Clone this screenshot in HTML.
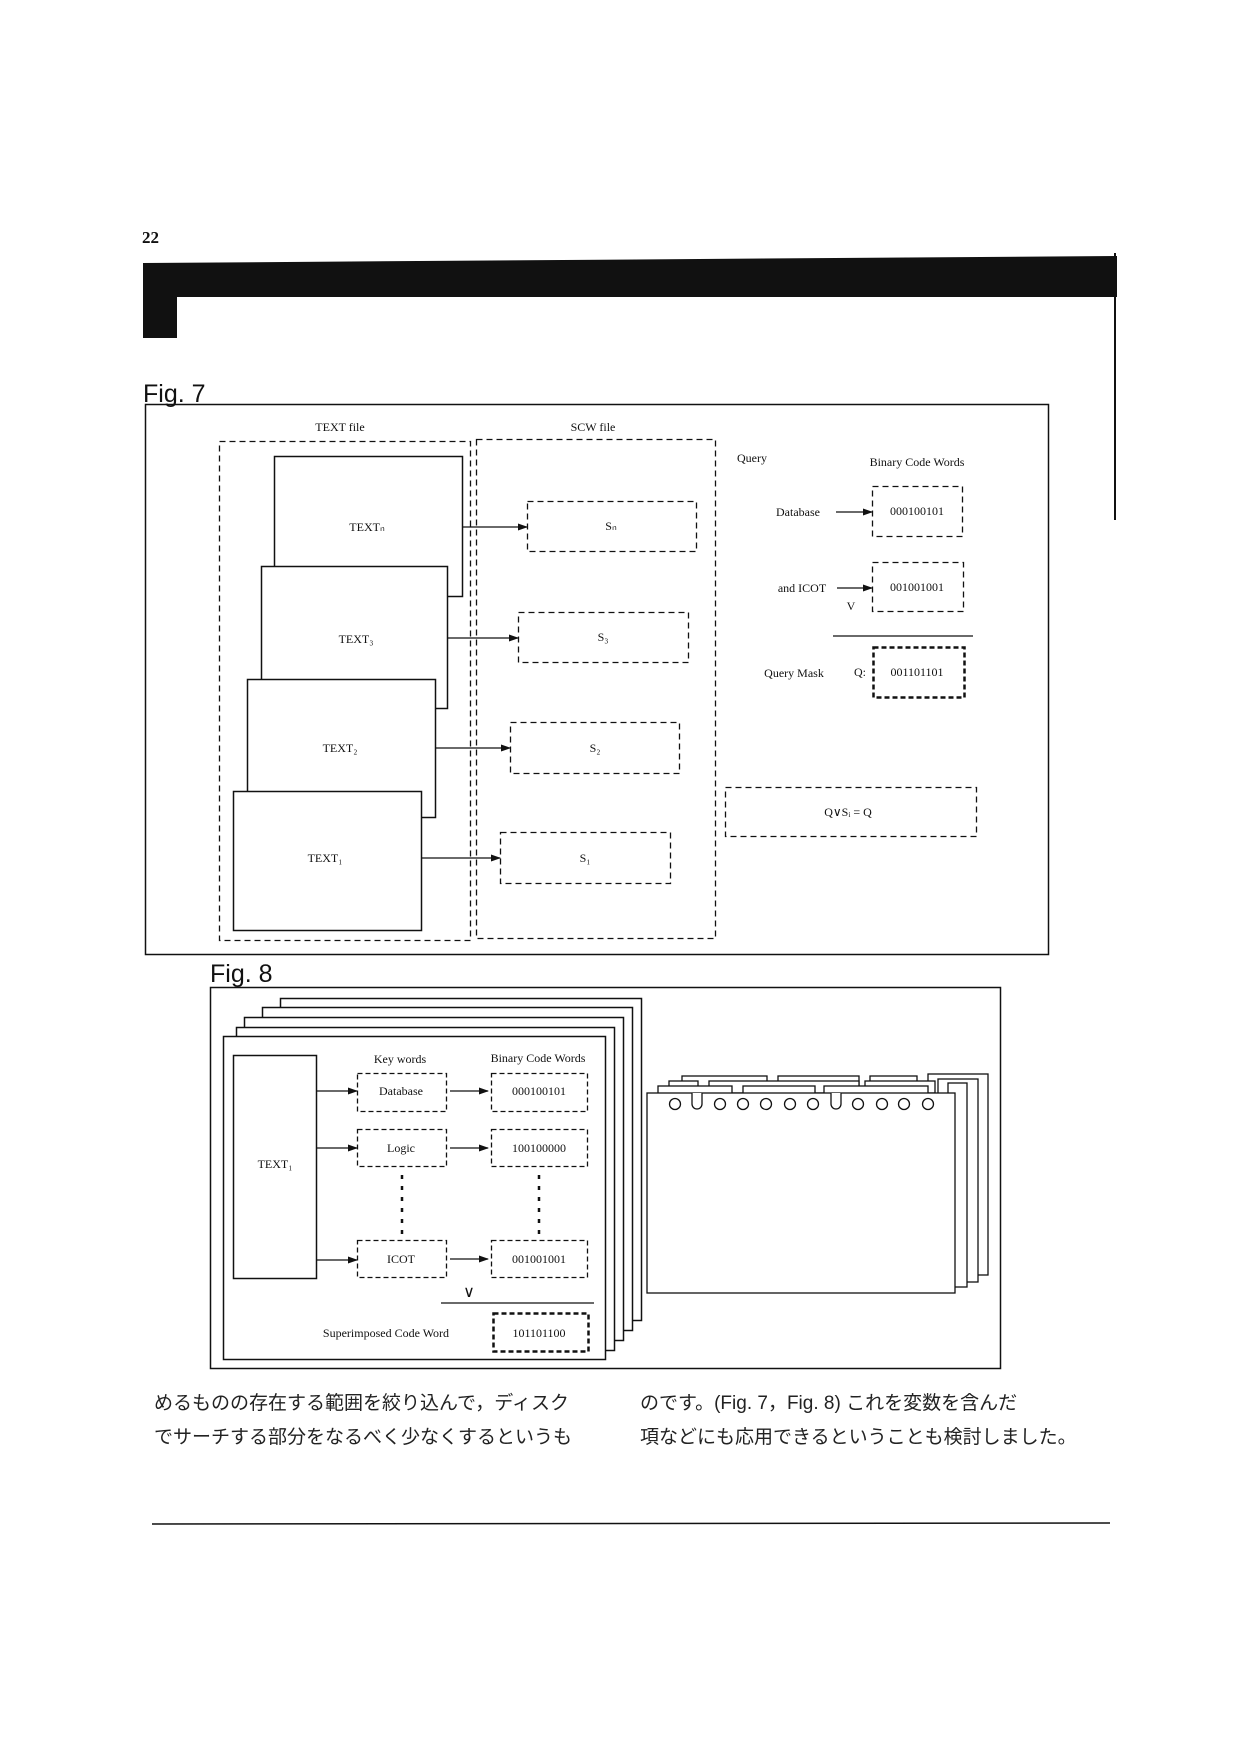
<!DOCTYPE html>
<html><head><meta charset="utf-8"><style>
html,body{margin:0;padding:0;background:#fff}
svg{display:block}
.s{font-family:"Liberation Serif",serif;fill:#111}
.j{font-family:"Liberation Sans","Noto Sans CJK JP",sans-serif;fill:#222}
</style></head><body>
<svg width="1248" height="1754" viewBox="0 0 1248 1754" xmlns="http://www.w3.org/2000/svg">
<defs><marker id="a" markerWidth="10" markerHeight="8" refX="9" refY="4" orient="auto" markerUnits="userSpaceOnUse"><path d="M0,0.5 L10,4 L0,7.5z" fill="#111"/></marker></defs>
<text class="s" x="142" y="243" font-size="17" font-weight="bold">22</text>
<path d="M143,263 L1117,256 L1117,297 L177,297 L177,338 L143,338z" fill="#111"/>
<line x1="1115" y1="253" x2="1115" y2="520" stroke="#111" stroke-width="2"/>
<text x="143" y="402" font-family="Liberation Sans,sans-serif" font-size="25" fill="#111">Fig. 7</text>
<rect x="145.5" y="404.5" width="903" height="550" fill="none" stroke="#111" stroke-width="1.5"/>
<g class="s" font-size="12" text-anchor="middle">
<text x="340" y="431">TEXT file</text><text x="593" y="431">SCW file</text></g>
<g fill="none" stroke="#111" stroke-width="1.3" stroke-dasharray="6,4">
<rect x="219.5" y="441.5" width="251" height="499"/>
<rect x="476.5" y="439.5" width="239" height="499"/>
<rect x="527.5" y="501.5" width="169" height="50"/>
<rect x="518.5" y="612.5" width="170" height="50"/>
<rect x="510.5" y="722.5" width="169" height="51"/>
<rect x="500.5" y="832.5" width="170" height="51"/>
<rect x="872.5" y="486.5" width="90" height="50"/>
<rect x="872.5" y="562.5" width="91" height="49"/>
<rect x="725.5" y="787.5" width="251" height="49"/>
</g>
<rect x="873.5" y="647.5" width="91" height="50" fill="none" stroke="#111" stroke-width="2.5" stroke-dasharray="5,3"/>
<g fill="#fff" stroke="#111" stroke-width="1.5">
<rect x="274.5" y="456.5" width="188" height="140"/>
<rect x="261.5" y="566.5" width="186" height="142"/>
<rect x="247.5" y="679.5" width="188" height="138"/>
<rect x="233.5" y="791.5" width="188" height="139"/>
</g>
<g class="s" font-size="12" text-anchor="middle">
<text x="367" y="531">TEXTₙ</text><text x="356" y="643">TEXT₃</text><text x="340" y="752">TEXT₂</text><text x="325" y="862">TEXT₁</text>
<text x="611" y="530">Sₙ</text><text x="603" y="641">S₃</text><text x="595" y="752">S₂</text><text x="585" y="862">S₁</text>
</g>
<g stroke="#111" stroke-width="1.3" marker-end="url(#a)">
<line x1="462" y1="527" x2="527" y2="527"/>
<line x1="447" y1="638" x2="518" y2="638"/>
<line x1="435" y1="748" x2="510" y2="748"/>
<line x1="421" y1="858" x2="500" y2="858"/>
<line x1="836" y1="512" x2="872" y2="512"/>
<line x1="837" y1="588" x2="872" y2="588"/>
</g>
<g class="s" font-size="12">
<text x="737" y="462">Query</text>
<text x="917" y="466" text-anchor="middle">Binary Code Words</text>
<text x="798" y="516" text-anchor="middle">Database</text>
<text x="917" y="515" text-anchor="middle">000100101</text>
<text x="802" y="592" text-anchor="middle">and ICOT</text>
<text x="917" y="591" text-anchor="middle">001001001</text>
<text x="851" y="610" text-anchor="middle">V</text>
<text x="794" y="677" text-anchor="middle">Query Mask</text>
<text x="860" y="676" text-anchor="middle">Q:</text>
<text x="917" y="676" text-anchor="middle">001101101</text>
<text x="848" y="816" text-anchor="middle">Q∨Sᵢ = Q</text>
</g>
<line x1="833" y1="636" x2="973" y2="636" stroke="#111" stroke-width="1.3"/>
<text x="210" y="982" font-family="Liberation Sans,sans-serif" font-size="25" fill="#111">Fig. 8</text>
<rect x="210.5" y="987.5" width="790" height="381" fill="none" stroke="#111" stroke-width="1.5"/>
<g fill="#fff" stroke="#111" stroke-width="1.5">
<rect x="280.5" y="998.5" width="361" height="322"/>
<rect x="262.5" y="1007.5" width="370" height="323"/>
<rect x="244.5" y="1017.5" width="379" height="323"/>
<rect x="236.5" y="1027.5" width="378" height="323"/>
<rect x="223.5" y="1036.5" width="382" height="323"/>
<rect x="233.5" y="1055.5" width="83" height="223"/>
</g>
<g fill="none" stroke="#111" stroke-width="1.3" stroke-dasharray="5,3">
<rect x="357.5" y="1073.5" width="89" height="38"/>
<rect x="357.5" y="1129.5" width="89" height="37"/>
<rect x="357.5" y="1240.5" width="89" height="37"/>
<rect x="491.5" y="1073.5" width="96" height="38"/>
<rect x="491.5" y="1129.5" width="96" height="37"/>
<rect x="491.5" y="1240.5" width="96" height="37"/>
</g>
<rect x="493.5" y="1313.5" width="95" height="38" fill="none" stroke="#111" stroke-width="2.5" stroke-dasharray="5,3"/>
<g stroke="#111" stroke-width="2.5" stroke-dasharray="4,7">
<line x1="402" y1="1175" x2="402" y2="1235"/><line x1="539" y1="1175" x2="539" y2="1235"/></g>
<g stroke="#111" stroke-width="1.3" marker-end="url(#a)">
<line x1="316" y1="1091" x2="357" y2="1091"/><line x1="316" y1="1148" x2="357" y2="1148"/><line x1="316" y1="1260" x2="357" y2="1260"/>
<line x1="450" y1="1091" x2="488" y2="1091"/><line x1="450" y1="1148" x2="488" y2="1148"/><line x1="450" y1="1259" x2="488" y2="1259"/>
</g>
<line x1="441" y1="1303" x2="594" y2="1303" stroke="#111" stroke-width="1.3"/>
<g class="s" font-size="12" text-anchor="middle">
<text x="275" y="1168">TEXT₁</text>
<text x="400" y="1063">Key words</text><text x="538" y="1062">Binary Code Words</text>
<text x="401" y="1095">Database</text><text x="401" y="1152">Logic</text><text x="401" y="1263">ICOT</text>
<text x="539" y="1095">000100101</text><text x="539" y="1152">100100000</text><text x="539" y="1263">001001001</text>
<text x="469" y="1297" font-size="16">∨</text>
<text x="386" y="1337">Superimposed Code Word</text>
<text x="539" y="1337">101101100</text>
</g>
<g fill="#fff" stroke="#111" stroke-width="1.3">
<rect x="928" y="1074" width="60" height="201"/>
<rect x="938" y="1079" width="40" height="203"/>
<rect x="948" y="1083" width="19" height="204"/>
<rect x="682" y="1076" width="85" height="12"/><rect x="778" y="1076" width="81" height="12"/><rect x="870" y="1076" width="47" height="12"/>
<rect x="669" y="1081" width="29" height="12"/><rect x="709" y="1081" width="150" height="12"/><rect x="865" y="1081" width="70" height="12"/>
<rect x="658" y="1086" width="74" height="10"/><rect x="743" y="1086" width="72" height="10"/><rect x="824" y="1086" width="104" height="10"/>
<rect x="647" y="1093" width="308" height="200"/>
<circle cx="675" cy="1104" r="5.5"/><circle cx="720" cy="1104" r="5.5"/><circle cx="743" cy="1104" r="5.5"/><circle cx="766" cy="1104" r="5.5"/><circle cx="790" cy="1104" r="5.5"/><circle cx="813" cy="1104" r="5.5"/><circle cx="858" cy="1104" r="5.5"/><circle cx="882" cy="1104" r="5.5"/><circle cx="904" cy="1104" r="5.5"/><circle cx="928" cy="1104" r="5.5"/>
<path d="M692,1093 L692,1104 A5,5 0 0 0 702,1104 L702,1093" fill="#fff"/>
<path d="M831,1093 L831,1104 A5,5 0 0 0 841,1104 L841,1093" fill="#fff"/>
</g>
<g class="j" font-size="19">
<text x="154" y="1409">めるものの存在する範囲を絞り込んで，ディスク</text>
<text x="154" y="1443">でサーチする部分をなるべく少なくするというも</text>
<text x="640" y="1409">のです。(Fig. 7，Fig. 8) これを変数を含んだ</text>
<text x="640" y="1443">項などにも応用できるということも検討しました。</text>
</g>
<line x1="152" y1="1524" x2="1110" y2="1523" stroke="#111" stroke-width="1.5"/>
</svg>
</body></html>
